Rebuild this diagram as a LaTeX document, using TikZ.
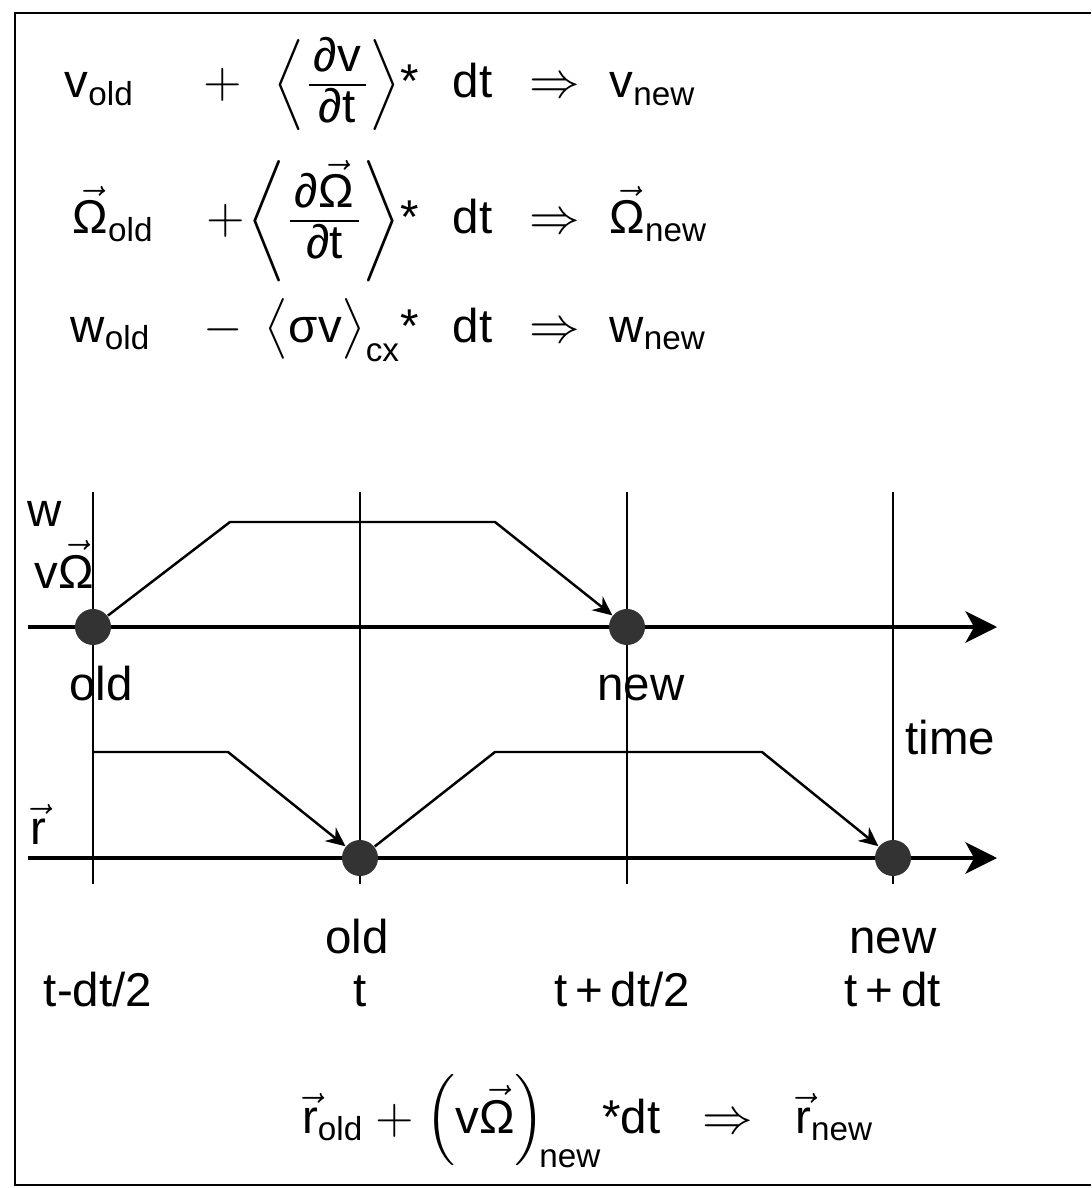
\documentclass[tikz,border=0pt]{standalone}
\usepackage{amsmath}
\usepackage{fontspec}
\setmainfont{Liberation Sans}
\usetikzlibrary{arrows.meta}

\newcommand{\symv}{\mbox{v}}
\newcommand{\symw}{\mbox{w}}
\newcommand{\symOm}{\vec{\mbox{Ω}}}
\newcommand{\symr}{\vec{\mbox{r}}}
\newcommand{\numtop}[1]{\raisebox{0pt}[\height][3pt]{\hspace{0.1em}#1\hspace{0.1em}}}
\newcommand{\numbot}[1]{\raisebox{0pt}[11.5pt][\depth]{\hspace{0.1em}#1\hspace{0.1em}}}

\tikzset{
  timeaxis/.style={line width=0.9pt, -{Stealth[length=9pt,width=9pt,inset=2.5pt]}},
  tickline/.style={line width=0.45pt},
  ramp/.style={line width=0.7pt, -{Stealth[length=5.5pt,width=5pt]}},
  event/.style={circle, fill=black!80, minimum size=3.6mm, inner sep=0pt},
  txt/.style={font=\fontsize{13.5}{16}\selectfont, inner sep=0pt}
}

\begin{document}
\begin{tikzpicture}[x=0.01cm,y=-0.01cm]
\useasboundingbox (0,0) rectangle (1091,1188);
\draw[line width=0.8pt] (1091,13) -- (15,13) -- (15,1185) -- (1091,1185);

% update equations
\node[txt, anchor=base west] (vold) at (64,98) {$\symv_{\text{old}}$};
\node[txt, anchor=base] (op1) at (223,98) {$+$};
\node[txt, anchor=base east] (dvdt) at (420,98) {$\Big\langle\frac{\numtop{∂v}}{\numbot{∂t}}\Big\rangle\mbox{*}$};
\node[txt, anchor=base west] (dt1) at (452,98) {dt};
\node[txt, anchor=base] (imp1) at (555,98) {$\Rightarrow$};
\node[txt, anchor=base west] (vnew) at (609,98) {$\symv_{\text{new}}$};

\node[txt, anchor=base west] (omold) at (72,234) {$\symOm_{\text{old}}$};
\node[txt, anchor=base] (op2) at (226,234) {$+$};
\node[txt, anchor=base east] (domdt) at (420,234) {$\bigg\langle\frac{\numtop{$\mbox{∂}\symOm$}}{\numbot{∂t}}\bigg\rangle\mbox{*}$};
\node[txt, anchor=base west] (dt2) at (452,234) {dt};
\node[txt, anchor=base] (imp2) at (555,234) {$\Rightarrow$};
\node[txt, anchor=base west] (omnew) at (609,234) {$\symOm_{\text{new}}$};

\node[txt, anchor=base west] (wold) at (70,342) {$\symw_{\text{old}}$};
\node[txt, anchor=base] (op3) at (223,342) {$-$};
\node[txt, anchor=base east] (sigv) at (420,342) {$\bigl\langle\mbox{σv}\bigr\rangle_{\text{cx}}\mbox{*}$};
\node[txt, anchor=base west] (dt3) at (452,342) {dt};
\node[txt, anchor=base] (imp3) at (555,342) {$\Rightarrow$};
\node[txt, anchor=base west] (wnew) at (609,342) {$\symw_{\text{new}}$};

% time grid
\foreach \x/\n in {93/a,360/b,627/c,893/d} {
  \coordinate (top\n) at (\x,492);
  \coordinate (bot\n) at (\x,884);
  \draw[tickline] (top\n) -- (bot\n);
}
\coordinate (ax1s) at (28,627);
\coordinate (ax1e) at (997,627);
\coordinate (ax2s) at (28,858);
\coordinate (ax2e) at (997,858);
\draw[timeaxis] (ax1s) -- (ax1e);
\draw[timeaxis] (ax2s) -- (ax2e);

\node[event] (d1) at (93,627) {};
\node[event] (d2) at (627,627) {};
\node[event] (d3) at (360,858) {};
\node[event] (d4) at (893,858) {};

\coordinate (u1) at (230,522);
\coordinate (u2) at (495,522);
\draw[ramp] (d1) -- (u1) -- (u2) -- (d2);

\coordinate (r0) at (93,752);
\coordinate (r1) at (228,752);
\draw[ramp] (r0) -- (r1) -- (d3);
\coordinate (r2) at (495,752);
\coordinate (r3) at (762,752);
\draw[ramp] (d3) -- (r2) -- (r3) -- (d4);

% labels
\node[txt, anchor=base] (lw) at (45,526) {w};
\node[txt, anchor=base] (lvom) at (64,588) {$\symv\symOm$};
\node[txt, anchor=base] (lr) at (38,844) {$\symr$};
\node[txt, anchor=base] (lold1) at (101,700) {old};
\node[txt, anchor=base] (lnew1) at (641,700) {new};
\node[txt, anchor=base west] (ltime) at (905,754) {time};
\node[txt, anchor=base] (lold2) at (357,953) {old};
\node[txt, anchor=base] (lnew2) at (893,953) {new};
\node[txt, anchor=base] (t0) at (98,1006) {t-dt/2};
\node[txt, anchor=base] (t1) at (360,1006) {t};
\node[txt, anchor=base] (t2) at (622,1006) {t\thinspace+\thinspace dt/2};
\node[txt, anchor=base] (t3) at (893,1006) {t\thinspace+\thinspace dt};

% position update
\node[txt, anchor=base] (req) at (588,1133) {$\symr_{\text{old}} + \Bigl(\symv\symOm\Bigr)_{\!\text{new}}\mbox{*dt} \;\;\Rightarrow\;\; \symr_{\text{new}}$};
\end{tikzpicture}
\end{document}
